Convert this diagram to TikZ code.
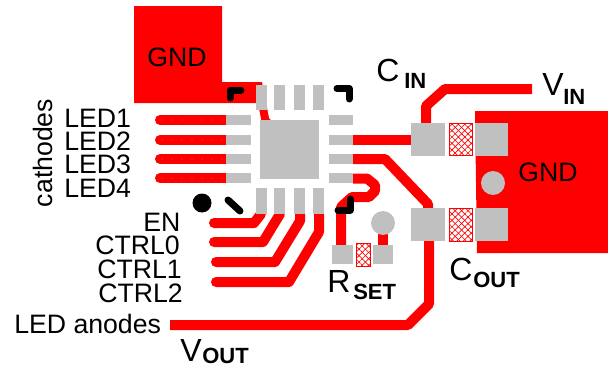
\documentclass[tikz,border=0pt]{standalone}
\usepackage{fontspec}
\setmainfont{Liberation Sans}
\usetikzlibrary{patterns.meta}
\definecolor{pcbred}{RGB}{255,0,0}
\definecolor{pcbgray}{RGB}{192,192,192}
\tikzset{
  x=0.75pt,y=-0.75pt,
  tracewire/.style={draw=pcbred,line width=7.5pt,line join=round},
  roundwire/.style={tracewire,line cap=round},
  padgray/.style={fill=pcbgray,draw=none},
  silk/.style={draw=black,line width=5.25pt,line cap=round,line join=round},
  hatchone/.style={pattern={Lines[angle=45,distance=3.4pt,line width=.5pt]},pattern color=pcbred},
  hatchtwo/.style={pattern={Lines[angle=-45,distance=3.4pt,line width=.5pt]},pattern color=pcbred,draw=pcbred,line width=0.75pt},
  lbl/.style={font=\fontsize{20}{20}\selectfont,inner sep=0pt,anchor=base west},
  big/.style={font=\fontsize{24}{24}\selectfont,inner sep=0pt,anchor=base west},
  sub/.style={font=\fontsize{16.5}{16.5}\selectfont\bfseries,inner sep=0pt,anchor=base west},
  gndlbl/.style={font=\fontsize{20}{20}\selectfont,inner sep=0pt,anchor=center}
}
\newcommand{\hatchbox}[4]{%
  \path[hatchone] (#1,#2) rectangle (#3,#4);
  \path[hatchtwo] (#1,#2) rectangle (#3,#4);}
\newcommand{\dotgrid}[4]{%
  \foreach \dx in {#1}{\foreach \dy in {#2}{\fill[white,opacity=#3] (\dx,\dy) circle[radius=#4];}}}
\begin{document}
\begin{tikzpicture}
\useasboundingbox (0,0) rectangle (608,371);
% copper pours
\fill[pcbred] (134,6) -- (222,6) -- (222,82) -- (262,82) -- (269,118) -- (274,124) -- (262,124) -- (258,103) -- (134,103) -- cycle;
\fill[pcbred] (475,111) -- (608,111) -- (608,253) -- (477,253) -- cycle;
% traces
\draw[roundwire] (160,120) -- (226,120);
\draw[roundwire] (160,140) -- (226,140);
\draw[roundwire] (160,159) -- (226,159);
\draw[roundwire] (160,178) -- (226,178);
\draw[tracewire] (353,140) -- (411,140);
\draw[tracewire] (353,159) -- (385,159) -- (428,204) -- (428,208);
\draw[tracewire] (426,123) -- (426,106) -- (445,89) -- (532,89);
\draw[tracewire] (429,241) -- (429,304) -- (408,325) -- (170,325);
\draw[roundwire] (261,214) -- (254,223) -- (214,223);
\draw[roundwire] (280,214) -- (263,242) -- (214,242);
\draw[roundwire] (300,214) -- (300,221) -- (275,262) -- (216,262);
\draw[roundwire] (319,214) -- (319,232) -- (289,282) -- (216,282);
\draw[tracewire] (353,178.5) -- (367,178.5) -- (375,185) -- (375,191) -- (369,197) -- (352,197) -- (341,207) -- (341,245);
\draw[tracewire] (383,223) -- (383,245);
% IC
\fill[padgray] (260,120) rectangle (319,179);
\foreach \yy in {115,135,154,173}{
  \fill[padgray] (226,\yy) rectangle (251,\yy+10);
  \fill[padgray] (329,\yy) rectangle (353,\yy+10);
}
\foreach \xx in {255.5,274,294,313}{
  \fill[padgray] (\xx,85) rectangle (\xx+11,110);
  \fill[padgray] (\xx,188) rectangle (\xx+11,214);
}
% silk marks
\draw[silk] (230,98) -- (230,90) -- (241,90);
\draw[silk] (337,88.5) -- (349,88.5) -- (349,99);
\draw[silk] (228,200) -- (240,211);
\draw[silk] (338,210) -- (350,210) -- (350,199);
\fill[black] (202,203) circle[radius=9.5];
% passives
\fill[padgray] (332,245) rectangle (353,264);
\fill[padgray] (373,245) rectangle (393,264);
\fill[padgray] (383,223) circle[radius=12];
\hatchbox{356}{243}{370}{266}
\fill[padgray] (411,123) rectangle (445,156);
\fill[padgray] (475,123) rectangle (508,156);
\fill[padgray] (411,208) rectangle (445,241);
\fill[padgray] (475,208) rectangle (508,241);
\hatchbox{449}{123}{472}{155}
\hatchbox{449}{208}{472}{241}
\fill[padgray] (493,183) circle[radius=12];
% drill-grid dots
\dotgrid{162,172,...,242}{120,140,159,178}{.8}{.45}
\dotgrid{270,280,...,310}{130,140,...,170}{.8}{.45}
\dotgrid{338,348}{120,140,159,178}{.8}{.45}
\dotgrid{418,428,438,488,498}{129,139,149,214,224,234}{.8}{.45}
\dotgrid{340,350,380,390}{250,260}{.8}{.45}
% labels
\node[gndlbl] (gnda) at (177,57) {GND};
\node[gndlbl] (gndb) at (548,172) {GND};
\node[font=\fontsize{20}{20}\selectfont,rotate=90,inner sep=0pt,anchor=base] (cath) at (52,153) {cathodes};
\node[lbl] (l1) at (64,127) {LED1};
\node[lbl] (l2) at (64,150) {LED2};
\node[lbl] (l3) at (64,173) {LED3};
\node[lbl] (l4) at (64,197) {LED4};
\node[lbl] (en) at (143,231) {EN};
\node[lbl] (c0) at (95,254) {CTRL0};
\node[lbl] (c1) at (97,278) {CTRL1};
\node[lbl] (c2) at (98,302) {CTRL2};
\node[lbl] (anodes) at (14,333) {LED anodes};
\node[big] (cin) at (376,81) {C};
\node[sub] (cins) at (404,88) {IN};
\node[big] (vin) at (542,95) {V};
\node[sub] (vins) at (563,104) {IN};
\node[big] (cout) at (449,280) {C};
\node[sub] (couts) at (473,287) {OUT};
\node[big] (rset) at (327,292) {R};
\node[sub] (rsets) at (353,299) {SET};
\node[big] (vout) at (180,361) {V};
\node[sub] (vouts) at (202,363) {OUT};
\end{tikzpicture}
\end{document}
